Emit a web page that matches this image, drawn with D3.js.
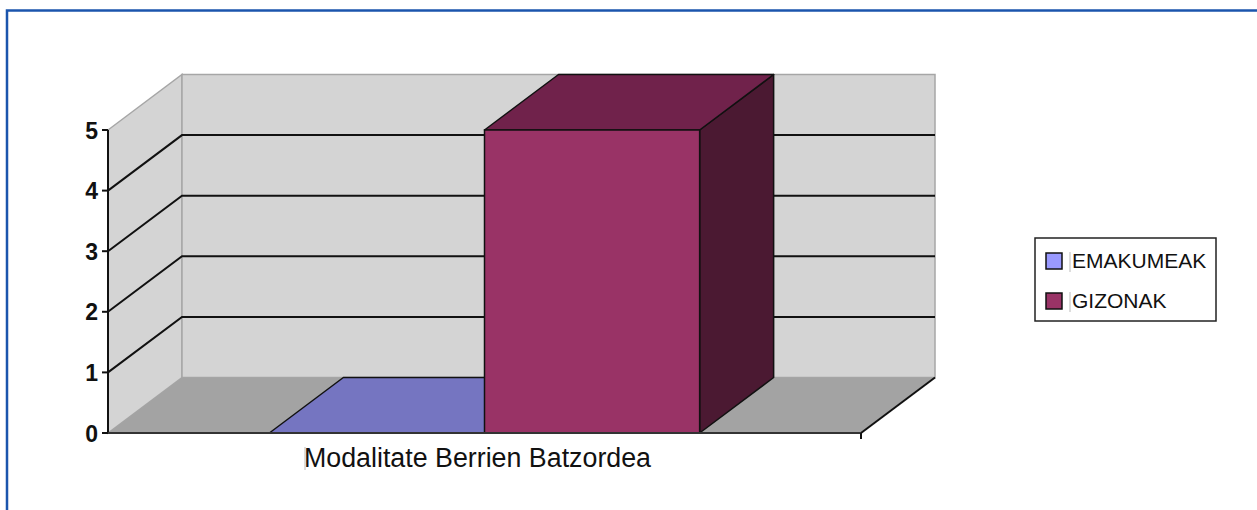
<!DOCTYPE html>
<html>
<head>
<meta charset="utf-8">
<script src="https://cdn.jsdelivr.net/npm/d3@7"></script>
<style>
  body { margin: 0; background: #fff; }
  svg { display: block; font-family: Arial, "Liberation Sans", sans-serif; }
</style>
</head>
<body>
<div id="chart"></div>
<script>
// chart data
var categories = ["Modalitate Berrien Batzordea"];
var seriesNames = ["EMAKUMEAK", "GIZONAK"];
var seriesValues = [0, 5];
var seriesColors = ["#9999ff", "#993366"];
var topColors = ["#7575c1", "#70224b"];
var sideColors = ["#5a5a99", "#4b1932"];
var yTicks = [0, 1, 2, 3, 4, 5];

const width = 1257, height = 510;

// plot geometry (front plane + depth offset for the 3d look)
const plotLeft = 108, plotRight = 861, plotBottom = 433, plotTop = 130;
const dx = 74, dy = -55.5;

var svg = d3.select("#chart")
  .append("svg")
  .attr("width", width)
  .attr("height", height);

// outer blue frame
svg.append("rect")
  .attr("x", 7).attr("y", 10.5)
  .attr("width", 1270).attr("height", 520)
  .attr("fill", "none")
  .attr("stroke", "#1b55ad")
  .attr("stroke-width", 2.5);

var y = d3.scaleLinear().domain([0, 5]).range([plotBottom, plotTop]);

var x0 = d3.scaleBand().domain(categories).range([plotLeft, plotRight]);
var x1 = d3.scaleBand().domain(seriesNames)
  .range([0, x0.bandwidth()])
  .paddingInner(0)
  .paddingOuter(0.75);

const pts = (arr) => arr.map(p => p.join(",")).join(" ");

// walls
svg.append("polygon")  // left side wall
  .attr("points", pts([[plotLeft, y(0)], [plotLeft, y(5)], [plotLeft + dx, y(5) + dy], [plotLeft + dx, y(0) + dy]]))
  .attr("fill", "#d4d4d4").attr("stroke", "#a6a6a6").attr("stroke-width", 1.5);

svg.append("polygon")  // back wall
  .attr("points", pts([[plotLeft + dx, y(5) + dy], [plotRight + dx, y(5) + dy], [plotRight + dx, y(0) + dy], [plotLeft + dx, y(0) + dy]]))
  .attr("fill", "#d4d4d4").attr("stroke", "#a6a6a6").attr("stroke-width", 1.5);

svg.append("polygon")  // floor
  .attr("points", pts([[plotLeft, y(0)], [plotRight, y(0)], [plotRight + dx, y(0) + dy], [plotLeft + dx, y(0) + dy]]))
  .attr("fill", "#a3a3a3");

// gridlines on side wall and back wall
var grid = svg.append("g").attr("stroke", "#111").attr("stroke-width", 2).attr("fill", "none");
grid.selectAll("path")
  .data(yTicks.filter(d => d > 0 && d < 5))
  .enter()
  .append("path")
  .attr("d", d => `M${plotLeft},${y(d)} L${plotLeft + dx},${y(d) + dy} L${plotRight + dx},${y(d) + dy}`);

// floor right edge
svg.append("line")
  .attr("x1", plotRight).attr("y1", y(0))
  .attr("x2", plotRight + dx).attr("y2", y(0) + dy)
  .attr("stroke", "#111").attr("stroke-width", 2);

// bars, drawn left to right
var bars = svg.append("g")
  .selectAll("g")
  .data(seriesValues)
  .enter()
  .append("g");

bars.each(function(v, i) {
  var g = d3.select(this);
  var bx = x0(categories[0]) + x1(seriesNames[i]);
  var bw = x1.bandwidth();
  var yt = y(v), yb = y(0);

  // side face
  g.append("polygon")
    .attr("points", pts([[bx + bw, yt], [bx + bw + dx, yt + dy], [bx + bw + dx, yb + dy], [bx + bw, yb]]))
    .attr("fill", sideColors[i]).attr("stroke", "#111").attr("stroke-width", 1.5)
    .attr("stroke-linejoin", "round");
  // top face
  g.append("polygon")
    .attr("points", pts([[bx, yt], [bx + dx, yt + dy], [bx + bw + dx, yt + dy], [bx + bw, yt]]))
    .attr("fill", topColors[i]).attr("stroke", "#111").attr("stroke-width", 1.5)
    .attr("stroke-linejoin", "round");
  // front face
  g.append("rect")
    .attr("x", bx).attr("y", yt)
    .attr("width", bw).attr("height", yb - yt)
    .attr("fill", seriesColors[i]).attr("stroke", "#111").attr("stroke-width", 1.5);
});

// y axis
var yAxis = svg.append("g");
yAxis.append("line")
  .attr("x1", plotLeft).attr("x2", plotLeft)
  .attr("y1", y(5)).attr("y2", y(0))
  .attr("stroke", "#111").attr("stroke-width", 2);
yAxis.selectAll(".tick")
  .data(yTicks)
  .enter()
  .append("line")
  .attr("class", "tick")
  .attr("x1", plotLeft - 6).attr("x2", plotLeft)
  .attr("y1", d => y(d)).attr("y2", d => y(d))
  .attr("stroke", "#111").attr("stroke-width", 2);
yAxis.selectAll(".lbl")
  .data(yTicks)
  .enter()
  .append("text")
  .attr("class", "lbl")
  .attr("x", plotLeft - 10)
  .attr("y", d => y(d))
  .attr("dy", "0.37em")
  .attr("text-anchor", "end")
  .attr("font-size", 23)
  .attr("font-weight", "bold")
  .attr("fill", "#111")
  .text(d => d);

// x axis
svg.append("line")
  .attr("x1", plotLeft).attr("x2", plotRight)
  .attr("y1", y(0)).attr("y2", y(0))
  .attr("stroke", "#333").attr("stroke-width", 2);
svg.append("line")
  .attr("x1", plotRight).attr("x2", plotRight)
  .attr("y1", y(0)).attr("y2", y(0) + 6)
  .attr("stroke", "#111").attr("stroke-width", 2);

svg.selectAll(".cat")
  .data(categories)
  .enter()
  .append("text")
  .attr("class", "cat")
  .attr("x", d => x0(d) + x0.bandwidth() / 2 - 7)
  .attr("y", 467)
  .attr("text-anchor", "middle")
  .attr("font-size", 26.8)
  .attr("fill", "#111")
  .text(d => d);

// faint marker line in front of the category label
svg.append("line")
  .attr("x1", 305).attr("x2", 305)
  .attr("y1", 447).attr("y2", 470)
  .attr("stroke", "#bbb").attr("stroke-width", 1);

// legend
var legend = svg.append("g").attr("transform", "translate(1035,238)");
legend.append("rect")
  .attr("width", 181).attr("height", 83)
  .attr("fill", "#fff").attr("stroke", "#222").attr("stroke-width", 1.5);

var items = legend.selectAll(".item")
  .data(seriesNames)
  .enter()
  .append("g")
  .attr("class", "item")
  .attr("transform", (d, i) => `translate(0,${15 + i * 40})`);

items.append("rect")
  .attr("x", 11).attr("y", 0)
  .attr("width", 16).attr("height", 16)
  .attr("fill", (d, i) => seriesColors[i])
  .attr("stroke", "#111").attr("stroke-width", 1.5);

items.append("line")
  .attr("x1", 35).attr("x2", 35)
  .attr("y1", -1).attr("y2", 19)
  .attr("stroke", "#bbb").attr("stroke-width", 1);

items.append("text")
  .attr("x", 37).attr("y", 15)
  .attr("font-size", 21)
  .attr("fill", "#111")
  .text(d => d);
</script>
</body>
</html>
